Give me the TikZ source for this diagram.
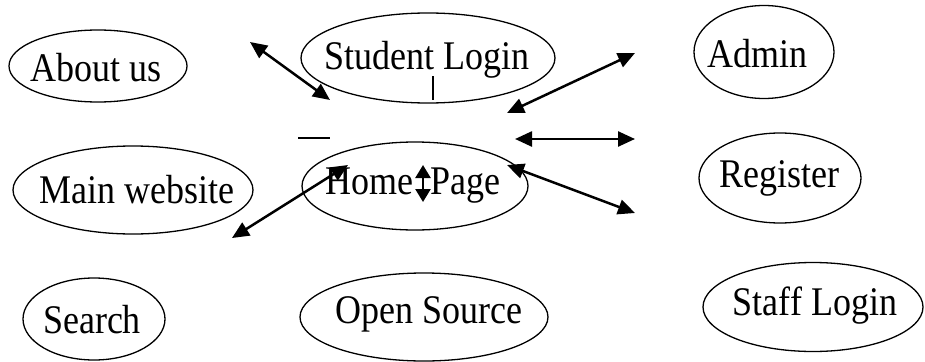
\documentclass[tikz,border=0pt]{standalone}
\usepackage{fontspec}
\setmainfont{Liberation Serif}
\usetikzlibrary{shapes.geometric,arrows.meta}
\newcommand{\tallcap}[1]{\scalebox{1}[1.13]{#1}}
\begin{document}
\begin{tikzpicture}[x=1pt,y=-1pt,
  oval/.style={ellipse, draw, line width=1.3pt, inner sep=0pt},
  caption/.style={font=\fontsize{36}{40}\selectfont, inner sep=0pt},
  link/.style={line width=2.5pt,
    {Triangle[length=17pt,width=15pt]}-{Triangle[length=17pt,width=15pt]}},
  smalllink/.style={line width=2.5pt,
    {Triangle[length=13pt,width=15pt]}-{Triangle[length=13pt,width=15pt]}},
  tick/.style={line width=1.5pt}]
\useasboundingbox (0,0) rectangle (925,361);

% page nodes: the oval outline and its caption
\node[oval, minimum width=178, minimum height=72] (about)    at (98,66)   {};
\node[oval, minimum width=254, minimum height=90] (student)  at (428,58)  {};
\node[oval, minimum width=140, minimum height=93] (admin)    at (764,52)  {};
\node[oval, minimum width=240, minimum height=88] (mainweb)  at (133,190) {};
\node[oval, minimum width=226, minimum height=88] (home)     at (415,186) {};
\node[oval, minimum width=162, minimum height=90] (register) at (780,178) {};
\node[oval, minimum width=142, minimum height=82] (search)   at (94,319)  {};
\node[oval, minimum width=248, minimum height=88] (open)     at (424,317) {};
\node[oval, minimum width=220, minimum height=89] (staff)    at (813,307) {};

\node[caption] (aboutT)    at (96,68)   {\tallcap{About us}};
\node[caption] (studentT)  at (427,60)  {\tallcap{Student Login}};
\node[caption] (adminT)    at (757,54)  {\tallcap{Admin}};
\node[caption] (mainwebT)  at (137,190) {\tallcap{Main website}};
\node[caption] (homeT)     at (413,186) {\tallcap{Home\hspace{0.45em}Page}};
\node[caption] (registerT) at (779,178) {\tallcap{Register}};
\node[caption] (searchT)   at (92,320)  {\tallcap{Search}};
\node[caption] (openT)     at (429,314) {\tallcap{Open Source}};
\node[caption] (staffT)    at (815,306) {\tallcap{Staff Login}};

% arrow end points
\coordinate (a1s) at (250,42);  \coordinate (a1e) at (330,100);
\coordinate (a2s) at (507,113); \coordinate (a2e) at (635,53);
\coordinate (a3s) at (515,139); \coordinate (a3e) at (635,139);
\coordinate (a4s) at (507,165); \coordinate (a4e) at (635,213);
\coordinate (a5s) at (232,238); \coordinate (a5e) at (348,165);
\coordinate (a6s) at (423,165); \coordinate (a6e) at (423,202);
\coordinate (t1s) at (433,76);  \coordinate (t1e) at (433,100);
\coordinate (t2s) at (298,138); \coordinate (t2e) at (330,138);

% connectors
\draw[link] (a1s) -- (a1e);
\draw[link] (a2s) -- (a2e);
\draw[link] (a3s) -- (a3e);
\draw[link] (a4s) -- (a4e);
\draw[link] (a5s) -- (a5e);
\draw[smalllink] (a6s) -- (a6e);

% stray strokes
\draw[tick] (t1s) -- (t1e);
\draw[tick] (t2s) -- (t2e);
\end{tikzpicture}
\end{document}
